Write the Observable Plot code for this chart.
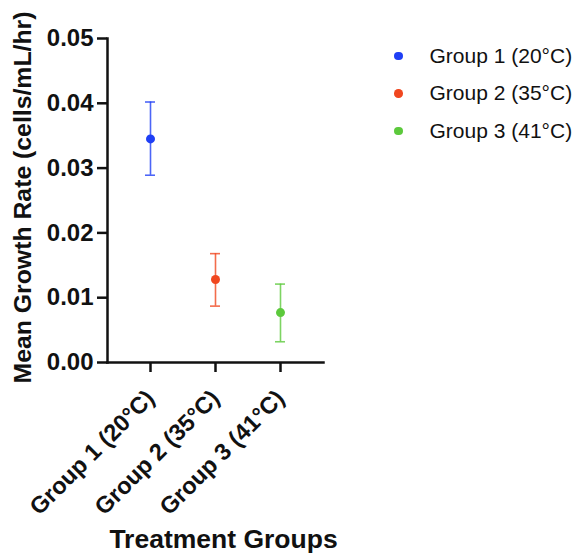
<!DOCTYPE html>
<html>
<head>
<meta charset="utf-8">
<script src="https://cdn.jsdelivr.net/npm/d3@7"></script>
<script src="https://cdn.jsdelivr.net/npm/@observablehq/plot@0.6"></script>
<style>
  html, body { margin: 0; padding: 0; background: #fff; }
  #wrap { position: relative; width: 579px; height: 556px; font-family: "Liberation Sans", Arial, sans-serif; }
  #legend { position: absolute; left: 388px; top: 37px; }
  .row { display: flex; align-items: center; height: 37.5px; font-size: 21px; color: #111; }
  .sw { width: 8.5px; height: 8.5px; border-radius: 50%; margin-left: 6px; margin-right: 27px; }
</style>
</head>
<body>
<div id="wrap"></div>
<script>
const groups = ["Group 1 (20°C)", "Group 2 (35°C)", "Group 3 (41°C)"];
const means  = [0.0345, 0.0128, 0.0077];
const lower  = [0.0289, 0.0087, 0.0032];
const upper  = [0.0402, 0.0168, 0.0121];
const colors = ["#1f3ff5", "#f0471f", "#5cc93c"];
const yTicks = [0, 0.01, 0.02, 0.03, 0.04, 0.05];
const xTitle = "Treatment Groups";
const yTitle = "Mean Growth Rate (cells/mL/hr)";

const data = groups.map((g, i) => ({group: g, mean: means[i], lo: lower[i], hi: upper[i]}));

const chart = Plot.plot({
  width: 579,
  height: 556,
  marginLeft: 107,
  marginRight: 256,
  marginTop: 38,
  marginBottom: 194,
  style: {fontFamily: "'Liberation Sans', Arial, sans-serif", color: "#111", background: "white"},
  x: {type: "point", domain: groups, padding: 0.66},
  y: {domain: [0, 0.05]},
  color: {domain: groups, range: colors},
  marks: [
    Plot.axisY(yTicks, {tickSize: 10, tickPadding: 4, strokeWidth: 2.5, fontSize: 24, fontWeight: "bold", tickFormat: d3.format(".2f"), label: null}),
    Plot.axisX({tickSize: 10, tickPadding: 22, dx: 0, tickRotate: -45, strokeWidth: 2.5, fontSize: 23.5, fontWeight: "bold", label: null}),
    Plot.frame({anchor: "left", strokeWidth: 2.5}),
    Plot.frame({anchor: "bottom", strokeWidth: 2.5}),
    Plot.ruleX(data, {x: "group", y1: "lo", y2: "hi", stroke: "group", strokeWidth: 1.6, strokeOpacity: 0.8}),
    Plot.ruleY(data, {y: "lo", x1: "group", x2: "group", stroke: "group", strokeWidth: 1.6, strokeOpacity: 0.8, insetLeft: -5, insetRight: -5}),
    Plot.ruleY(data, {y: "hi", x1: "group", x2: "group", stroke: "group", strokeWidth: 1.6, strokeOpacity: 0.8, insetLeft: -5, insetRight: -5}),
    Plot.dot(data, {x: "group", y: "mean", fill: "group", r: 4.5}),
    Plot.text([yTitle], {frameAnchor: "left", textAnchor: "middle", rotate: -90, dx: -94, dy: -3, fontSize: 24.8, fontWeight: "bold", lineAnchor: "top"}),
    Plot.text([xTitle], {frameAnchor: "bottom", dx: 8, dy: 185, fontSize: 26.5, fontWeight: "bold", lineAnchor: "bottom"})
  ]
});

const wrap = document.getElementById("wrap");
wrap.appendChild(chart);

const color = chart.scale("color");
const legend = document.createElement("div");
legend.id = "legend";
groups.forEach((g) => {
  const row = document.createElement("div");
  row.className = "row";
  const sw = document.createElement("span");
  sw.className = "sw";
  sw.style.background = color.apply(g);
  const lab = document.createElement("span");
  lab.textContent = g;
  row.appendChild(sw);
  row.appendChild(lab);
  legend.appendChild(row);
});
wrap.appendChild(legend);
</script>
</body>
</html>
